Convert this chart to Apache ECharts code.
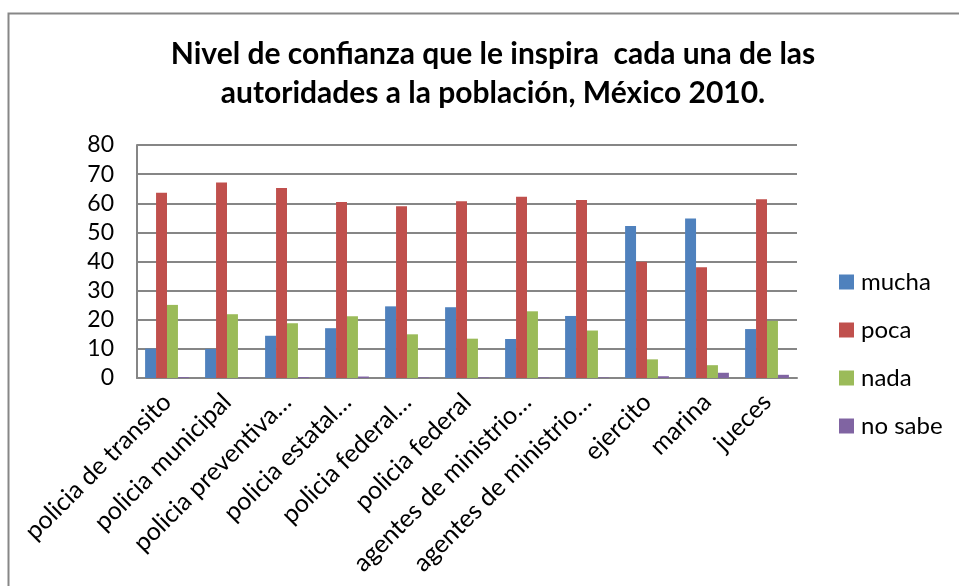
<!DOCTYPE html>
<html><head><meta charset="utf-8">
<script src="https://cdn.jsdelivr.net/npm/echarts@6/dist/echarts.min.js"></script>
<style>html,body{margin:0;padding:0;background:#fff}#c{width:959px;height:586px}</style>
</head><body><div id="c"></div>
<script>
var categories = ['policia de transito','policia municipal','policia preventiva…','policia estatal…','policia federal…','policia federal','agentes de ministrio…','agentes de ministrio…','ejercito','marina','jueces'];
var mucha  = [10.1, 10.0, 14.5, 17.1, 24.6, 24.3, 13.4, 21.3, 52.2, 54.8, 16.8];
var poca   = [63.6, 67.1, 65.2, 60.4, 59.0, 60.7, 62.2, 61.1, 39.9, 38.0, 61.4];
var nada   = [25.1, 21.9, 18.8, 21.2, 15.0, 13.5, 22.9, 16.3, 6.4, 4.4, 19.6];
var noSabe = [0.3, 0.1, 0.3, 0.5, 0.2, 0.2, 0.2, 0.2, 0.6, 1.8, 1.1];
var yTicks = [0, 10, 20, 30, 40, 50, 60, 70, 80];
var seriesNames = ['mucha','poca','nada','no sabe'];
var colors = ['#4F81BD','#C0504D','#9BBB59','#8064A2'];
var font = 'Lato, "Open Sans", sans-serif';

var chart = echarts.init(document.getElementById('c'));
var data = [mucha, poca, nada, noSabe];
chart.setOption({
  animation: false,
  backgroundColor: '#fff',
  graphic: [{type:'rect', shape:{x:8.5, y:13.5, width:1000, height:700}, style:{fill:'none', stroke:'#878787', lineWidth:2}, silent:true}],
  title: {
    text: 'Nivel de confianza que le inspira  cada una de las\nautoridades a la población, México 2010.',
    left: 488, top: 30, textAlign: 'center',
    textStyle: {fontFamily: font, fontSize: 30, fontWeight: 'bold', color: '#000', lineHeight: 39}
  },
  legend: {
    orient: 'vertical', left: 834, top: 263, itemGap: 20, itemWidth: 15, itemHeight: 15,
    icon: 'rect',
    textStyle: {fontFamily: font, fontSize: 24, color: '#000', lineHeight: 28, padding: [0,0,0,2]},
    data: seriesNames
  },
  grid: {left: 137, right: 162, top: 145, bottom: 208},
  xAxis: {
    type: 'category', data: categories,
    axisLine: {lineStyle: {color: '#868686', width: 2}},
    axisTick: {show: false},
    axisLabel: {rotate: 45, interval: 0, fontFamily: font, fontSize: 25, color: '#000', margin: 20}
  },
  yAxis: {
    type: 'value', min: 0, max: 80, interval: 10,
    axisLine: {show: true, lineStyle: {color: '#868686', width: 2}},
    axisTick: {show: false},
    splitLine: {lineStyle: {color: '#868686', width: 2}},
    axisLabel: {fontFamily: font, fontSize: 23, color: '#000', margin: 23,
      formatter: function(v){ return yTicks.indexOf(v) >= 0 ? String(v) : ''; }}
  },
  series: seriesNames.map(function(n, i){
    return {name: n, type: 'bar', data: data[i], barGap: '0%', barCategoryGap: '27%',
      itemStyle: {color: colors[i]}};
  })
});
</script></body></html>
